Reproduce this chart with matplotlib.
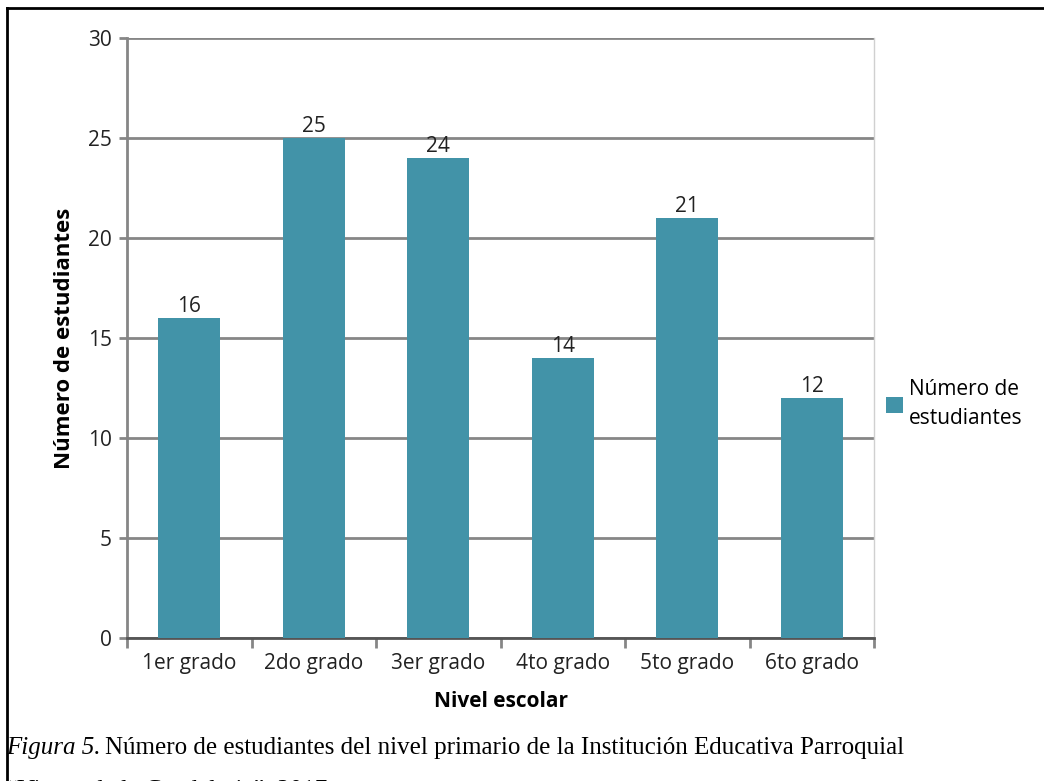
import matplotlib.pyplot as plt
from matplotlib.lines import Line2D

grados = ["1er grado", "2do grado", "3er grado", "4to grado", "5to grado", "6to grado"]
estudiantes = [16, 25, 24, 14, 21, 12]
y_ticks = [0, 5, 10, 15, 20, 25, 30]

bar_color = "#4293a8"
grid_color = "#868686"
sans = "Open Sans"
fs = 15

fig = plt.figure(figsize=(10.44, 7.81), dpi=100)
W, H = 1044, 781
ax = fig.add_axes([127 / W, 1 - 638 / H, (874 - 127) / W, 600 / H])

x = list(range(len(grados)))
bars = ax.bar(x, estudiantes, width=0.5, color=bar_color, zorder=3,
              label="Número de\nestudiantes")
for xi, v in zip(x, estudiantes):
    ax.text(xi, v + 0.05, str(v), ha="center", va="bottom", fontsize=fs,
            family=sans, color="#222222", zorder=4)

ax.set_xlim(-0.5, len(grados) - 0.5)
ax.set_ylim(0, 30)
ax.set_yticks(y_ticks)
ax.set_yticklabels([str(t) for t in y_ticks], family=sans, fontsize=fs,
                   color="#222222")
ax.yaxis.grid(True, color=grid_color, linewidth=2, zorder=1)
ax.set_axisbelow(True)

# category labels centered, tick marks on boundaries
ax.set_xticks(x)
ax.set_xticklabels(grados, family=sans, fontsize=fs, color="#222222")
ax.tick_params(axis="x", length=0, pad=11)
ax.set_xticks([i - 0.5 for i in range(len(grados) + 1)], minor=True)
ax.tick_params(axis="x", which="minor", length=7, width=2, color=grid_color)
ax.tick_params(axis="y", length=6, width=2, color=grid_color, pad=5)

ax.spines["top"].set_visible(False)
ax.spines["right"].set_color("#d0d0d0")
ax.spines["right"].set_linewidth(1)
ax.spines["left"].set_color(grid_color)
ax.spines["left"].set_linewidth(2)
ax.spines["bottom"].set_color("#555555")
ax.spines["bottom"].set_linewidth(2)

ax.set_ylabel("Número de estudiantes", family=sans, fontsize=16,
              fontweight="bold", labelpad=9)
ax.set_xlabel("Nivel escolar", family=sans, fontsize=15,
              fontweight="bold", labelpad=12)

leg = fig.legend(handles=[bars], loc="center left",
                 bbox_to_anchor=(876 / W, 1 - 404 / H), frameon=False,
                 prop={"family": sans, "size": fs}, handlelength=0.8,
                 handleheight=0.8, handletextpad=0.3, borderpad=0)
for t in leg.get_texts():
    t.set_linespacing(1.55)

# figure frame (top and left edges)
fig.add_artist(Line2D([7 / W, 1], [1 - 8 / H, 1 - 8 / H], color="black",
                      linewidth=2, transform=fig.transFigure))
fig.add_artist(Line2D([7 / W, 7 / W], [0, 1 - 8 / H], color="black",
                      linewidth=2, transform=fig.transFigure))

# caption
cap_fs = 18
t1 = fig.text(6 / W, 1 - 754 / H, "Figura 5.", family="Liberation Serif",
              style="italic", fontsize=cap_fs, va="baseline")
fig.canvas.draw()
x_end = t1.get_window_extent().x1
fig.text(x_end / W + 5 / W, 1 - 754 / H,
         "Número de estudiantes del nivel primario de la Institución Educativa Parroquial",
         family="Liberation Serif", fontsize=cap_fs, va="baseline")
fig.text(6 / W, 1 - 797 / H, "\u201cVirgen de la Candelaria\u201d, 2017.",
         family="Liberation Serif", fontsize=cap_fs, va="baseline")

fig.savefig("out.png", dpi=100)
